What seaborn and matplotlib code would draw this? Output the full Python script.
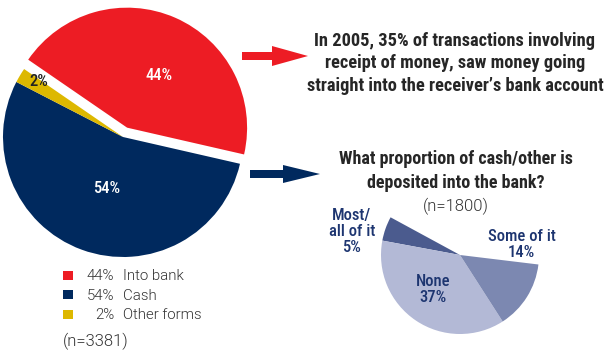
import matplotlib
matplotlib.use("Agg")
import matplotlib.pyplot as plt
import numpy as np
import seaborn as sns
from matplotlib import font_manager
from matplotlib.patches import FancyArrow, Rectangle

sns.set_theme(style="white")

# How money received in 2005 arrived
main_categories = ["Into bank", "Cash", "Other forms"]
main_shares = [44, 54, 2]
main_colors = ["#ED1C24", "#00295E", "#DDB800"]
main_n = 3381

# What happens to the cash/other share afterwards
sub_categories = ["Most/\nall of it", "None", "Some of it"]
sub_shares = [5, 37, 14]
sub_colors = ["#4B5B8E", "#B3B9D6", "#7C88B1"]
sub_n = 1800

headline = [
    "In 2005, 35% of transactions involving",
    "receipt of money, saw money going",
    "straight into the receiver\u2019s bank account",
]
sub_title = ["What proportion of cash/other is", "deposited into the bank?"]

available = {f.name for f in font_manager.fontManager.ttflist}


def pick(candidates):
    for name in candidates:
        if name in available:
            return name
    return "DejaVu Sans"


COND = pick(["Roboto Condensed", "Barlow Condensed", "Archivo Narrow",
             "PT Sans Narrow", "Encode Sans Condensed", "Sofia Sans Condensed"])
PLAIN = pick(["Roboto", "Barlow"])
plt.rcParams["font.family"] = [PLAIN, "DejaVu Sans"]

DARK = "#262626"
GREY = "#333333"
NAVY_TEXT = "#1D3570"

W, H = 611, 351
fig = plt.figure(figsize=(W / 100, H / 100), dpi=100)
fig.patch.set_facecolor("white")

# Overlay in pixel units for arrows, legend and headings
ov = fig.add_axes([0, 0, 1, 1])
ov.set_xlim(0, W)
ov.set_ylim(H, 0)
ov.axis("off")


def axes_for_circle(cx, cy, r):
    ax = fig.add_axes([(cx - r) / W, 1 - (cy + r) / H, 2 * r / W, 2 * r / H])
    ax.axis("off")
    return ax


def square_up(ax):
    ax.set_xlim(-1, 1)
    ax.set_ylim(-1, 1)
    ax.set_aspect("equal")


# ---- main pie ----
ax_main = axes_for_circle(123, 137, 120)
wedges, _ = ax_main.pie(
    main_shares, colors=main_colors, startangle=145.5, counterclock=False,
    explode=[0.085, 0, 0], wedgeprops=dict(linewidth=0),
)
square_up(ax_main)
for w in wedges:
    w.set_clip_on(False)

label_place = [(-8, 0.51), (3, 0.45), (-2.3, 0.84)]
label_colors = ["white", "white", "#222222"]
for w, v, (dang, dist), col in zip(wedges, main_shares, label_place, label_colors):
    mid = np.deg2rad((w.theta1 + w.theta2) / 2 + dang)
    cx, cy = w.center
    ax_main.text(cx + dist * w.r * np.cos(mid), cy + dist * w.r * np.sin(mid),
                 f"{v}%", ha="center", va="center", color=col,
                 fontsize=12, family=COND, fontweight=500, clip_on=False)

# ---- secondary (partial) pie ----
ax_sub = axes_for_circle(460, 255, 79)
sub_w, _ = ax_sub.pie(
    [v / 100 for v in sub_shares], normalize=False, colors=sub_colors,
    startangle=151.5, counterclock=True, wedgeprops=dict(linewidth=0),
)
square_up(ax_sub)
for w in sub_w:
    w.set_clip_on(False)

sub_label_pos = [(-1.37, 0.30), (-0.34, -0.44), (0.78, 0.13)]
for (x, y), cat, v in zip(sub_label_pos, sub_categories, sub_shares):
    ax_sub.text(x, y, f"{cat}\n{v}%", ha="center", va="center", color=NAVY_TEXT,
                fontsize=12, family=COND, fontweight=500,
                linespacing=1.1, clip_on=False)

# ---- arrows ----
ov.add_patch(FancyArrow(242, 56, 66, 0, width=8, head_width=20, head_length=36,
                        length_includes_head=True, color=main_colors[0], lw=0))
ov.add_patch(FancyArrow(250, 174, 70, 0, width=8, head_width=18, head_length=37,
                        length_includes_head=True, color=main_colors[1], lw=0))

# ---- headings ----
for line, yb in zip(headline, [46, 68, 91]):
    ov.text(455, yb, line, ha="center", va="baseline", color=DARK,
            fontsize=13.2, family=COND, fontweight=900)
for line, yb in zip(sub_title, [164, 188]):
    ov.text(456, yb, line, ha="center", va="baseline", color=DARK,
            fontsize=13, family=COND, fontweight=900)
ov.text(456, 211, f"(n={sub_n})", ha="center", va="baseline", color=GREY,
        fontsize=12, fontweight=300)

# ---- legend ----
for row, i in enumerate(range(len(main_categories))):
    yc = 275 + row * 19.5
    ov.add_patch(Rectangle((63, yc - 4.5), 10, 9, color=main_colors[i], lw=0))
    ov.text(114, yc + 5, f"{main_shares[i]}%", ha="right", va="baseline",
            color=GREY, fontsize=10.8, fontweight=300)
    ov.text(123, yc + 5, main_categories[i], ha="left", va="baseline",
            color=GREY, fontsize=10.8, fontweight=300)
ov.text(63, 346, f"(n={main_n})", ha="left", va="baseline", color=GREY,
        fontsize=12, fontweight=300)

fig.savefig("out.png", dpi=100, facecolor="white")
